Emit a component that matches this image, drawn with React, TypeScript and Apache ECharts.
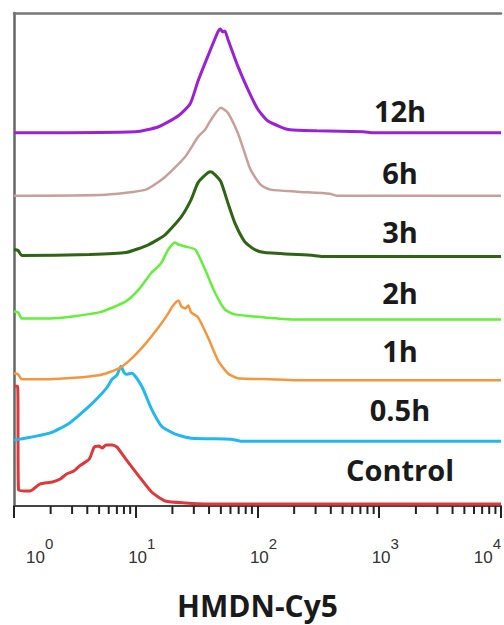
import React, { useEffect, useRef } from "react";
import * as echarts from "echarts";

// Series names (bottom to top)
const seriesNames = ["Control", "0.5h", "1h", "2h", "3h", "6h", "12h"];
const seriesColors = ["#e0383a", "#22b8ee", "#f5963c", "#62f03a", "#2f6414", "#c8a09b", "#9a22d6"];
// vertical offset of each histogram (same units as counts)
const offsets = [2, 65, 126, 187, 250, 311, 374];

// [fluorescence intensity, count]
const control = [[1, 118], [1.07, 118], [1.09, 14], [1.35, 13], [1.63, 20], [2.07, 22], [2.4, 25], [2.7, 30], [3.1, 33], [3.44, 38], [4.15, 45], [4.56, 57], [5.0, 58], [5.3, 56], [5.7, 59], [6.4, 59], [7.01, 57], [8.29, 45], [10.6, 28], [13.5, 12], [17.5, 3], [25.5, 1], [40, 0], [10000, 0]];
const h05 = [[1, 1], [1.12, 2], [1.96, 8], [2.85, 18], [4.15, 35], [5.29, 48], [5.9, 55], [6.38, 62], [7.0, 66], [7.55, 75], [8.0, 69], [8.29, 67], [9.27, 68], [11.2, 55], [13.5, 32], [16.3, 15], [21.1, 7], [28.5, 3], [60.3, 2], [72.8, 0], [10000, 0]];
const h1 = [[1, 7], [1.08, 6], [1.16, 1], [1.96, 1], [5, 5], [7.28, 12], [9.27, 22], [12.1, 37], [15.4, 53], [18.5, 67], [20, 74], [22.4, 80], [23.7, 74], [25.5, 72], [27, 75], [28.5, 68], [32.5, 63], [39.2, 43], [47.3, 20], [57, 7], [68.8, 2], [128, 1], [200, 0], [10000, 0]];
const h2 = [[1, 8], [1.08, 7], [1.16, 1], [1.96, 1], [5, 7], [8.29, 18], [10.6, 30], [13.5, 47], [15.0, 52], [16.3, 57], [18.5, 70], [21, 77], [22.4, 75], [25.5, 73], [30.8, 70], [37.1, 50], [44.7, 27], [53.9, 10], [65, 5], [114, 2], [200, 0], [10000, 0]];
const h3 = [[1, 7], [1.08, 6], [1.16, 1], [4.15, 2], [8.29, 4], [12.8, 12], [17.5, 22], [23.7, 40], [28.5, 57], [32.5, 74], [39.2, 84], [41.5, 85], [44.7, 82], [50, 75], [57, 54], [65, 34], [78.4, 15], [94.6, 7], [114, 4], [290, 1], [350, 0], [10000, 0]];
const h6 = [[1, 0], [5.7, 1], [12.1, 6], [17.5, 19], [25.5, 39], [32.5, 59], [37.1, 66], [41.5, 76], [50, 88], [57, 83], [68.8, 63], [78.4, 43], [87.7, 26], [106, 11], [128, 6], [211, 4], [392, 2], [447, 0], [10000, 0]];
const h12 = [[1, 0], [10, 1], [15.4, 6], [22.4, 17], [28, 29], [32.5, 52], [39.2, 77], [47.3, 101], [49.5, 104], [51.9, 101], [54, 102], [57, 94], [68.8, 67], [83, 44], [100, 24], [121, 12], [154, 6], [185, 3], [307, 2], [741, 1], [900, 0], [10000, 0]];
const seriesData = [control, h05, h1, h2, h3, h6, h12];
const lineWidths = [3, 3, 2.5, 2.5, 3, 2.5, 3];

// axis ticks
const xMin = 1;
const xMax = 10000;
const minorTicks = [2, 3, 4, 5, 6, 7, 8, 9, 20, 30, 40, 50, 60, 70, 80, 90, 200, 300, 400, 500, 600, 700, 800, 900, 2000, 3000, 4000, 5000, 6000, 7000, 8000, 9000];
const axisTitle = "HMDN-Cy5";

// label centre positions (pixels) for the series names
const labelY = [469, 409, 350, 292, 231, 172, 110];
const labelX = 400;

export default function App() {
  const ref = useRef<HTMLDivElement>(null);
  useEffect(() => {
    document.body.style.margin = "0";
    const chart = echarts.init(ref.current!, null, { renderer: "svg" });
    const labelFont = "Liberation Sans, Arial, sans-serif";
    const option: any = {
      animation: false,
      backgroundColor: "#ffffff",
      grid: { left: 14, top: 13, width: 491, height: 494 },
      xAxis: [
        {
          type: "log",
          logBase: 10,
          min: xMin,
          max: xMax,
          position: "bottom",
          axisLine: { show: true, onZero: false, lineStyle: { color: "#444", width: 2 } },
          axisTick: { show: true, length: 12, lineStyle: { color: "#222", width: 2 } },
          splitLine: { show: false },
          axisLabel: {
            margin: 30,
            padding: [0, 0, 0, 12],
            lineHeight: 30,
            fontSize: 17,
            fontFamily: labelFont,
            color: "#333",
            alignMinLabel: "left",
            alignMaxLabel: "right",
            formatter: (v: number) => `{b|10}{s|${Math.round(Math.log10(v))}}`,
            rich: {
              b: { fontSize: 17, fontFamily: labelFont, color: "#333", verticalAlign: "bottom", lineHeight: 30 },
              s: { fontSize: 15, fontFamily: labelFont, color: "#333", verticalAlign: "top", lineHeight: 30 },
            },
          },
          name: axisTitle,
          nameLocation: "middle",
          nameGap: 99,
          nameTextStyle: {
            fontSize: 30,
            fontWeight: "bold",
            fontFamily: "Open Sans",
            color: "#1a1a1a",
            verticalAlign: "middle",
          },
        },
        {
          type: "log",
          logBase: 10,
          min: xMin,
          max: xMax,
          position: "top",
          axisLine: { show: true, onZero: false, lineStyle: { color: "#777", width: 2.5 } },
          axisLabel: { show: false },
          axisTick: { show: false },
          splitLine: { show: false },
        },
      ],
      yAxis: {
        type: "value",
        min: 0,
        max: 494,
        axisLine: { show: true, onZero: false, lineStyle: { color: "#666", width: 2.5 } },
        axisTick: { show: false },
        axisLabel: { show: false },
        splitLine: { show: false },
      },
      series: seriesData.map((d, i) => ({
        type: "line",
        name: seriesNames[i],
        xAxisIndex: 0,
        showSymbol: false,
        smooth: 0.2,
        lineStyle: { color: seriesColors[i], width: lineWidths[i] },
        itemStyle: { color: seriesColors[i] },
        data: d.map((p) => [p[0], p[1] + offsets[i]]),
        z: 2 + i,
      })),
    };
    chart.setOption(option);

    // series name labels and minor log ticks (positioned through the axis scale)
    const graphics: any[] = seriesNames.map((n, i) => ({
      type: "text",
      x: labelX,
      y: labelY[i],
      z: 100,
      style: {
        text: n,
        fontSize: 29,
        fontWeight: "bold",
        fontFamily: "Open Sans",
        fill: "#1a1a1a",
        textAlign: "center",
        textVerticalAlign: "middle",
      },
    }));
    minorTicks.forEach((v) => {
      const p = chart.convertToPixel({ xAxisIndex: 0, yAxisIndex: 0 }, [v, 0]) as number[];
      if (p && isFinite(p[0]) && isFinite(p[1])) {
        graphics.push({
          type: "line",
          z: 50,
          shape: { x1: p[0], y1: p[1], x2: p[0], y2: p[1] + 8 },
          style: { stroke: "#222", lineWidth: 2 },
        });
      }
    });
    chart.setOption({ graphic: graphics });
    return () => chart.dispose();
  }, []);
  return <div ref={ref} style={{ width: 504, height: 625, position: "absolute", left: 0, top: 0 }} />;
}
